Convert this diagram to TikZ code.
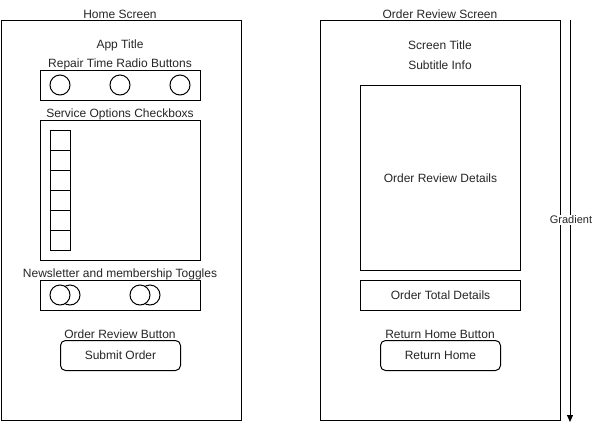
\documentclass[tikz,border=0pt]{standalone}
\usepackage{fontspec}
\setmainfont{Liberation Sans}
\usetikzlibrary{arrows.meta}
\begin{document}
\begin{tikzpicture}[x=1pt,y=-1pt,
  lbl/.style={font=\fontsize{12}{14}\selectfont, text=black!85, inner sep=0pt},
  panel/.style={draw, line width=1pt, inner sep=0pt, anchor=north west, fill=white},
  btn/.style={panel, rounded corners=5pt},
  cbox/.style={draw, line width=1pt, inner sep=0pt, minimum size=20pt, anchor=north west},
  radio/.style={draw, line width=1pt, circle, inner sep=0pt, minimum size=20pt},
  tog/.style={draw, line width=1pt, circle, inner sep=0pt, minimum size=20pt, fill=white},
  flow/.style={draw, line width=1pt, -{Triangle[length=7pt,width=6pt]}}]
\useasboundingbox (0,0) rectangle (592,429);

% ---------- Home screen ----------
\node[panel, minimum width=240, minimum height=400] (home) at (0.5,20) {};
\node[lbl] (homeT) at (120,14.5) {Home Screen};
\node[lbl] (appT) at (120,45) {App Title};

\node[lbl] (radioT) at (120,64) {Repair Time Radio Buttons};
\node[panel, minimum width=160, minimum height=30] (radioBox) at (40,70) {};
\node[radio] (r1) at (60,85) {};
\node[radio] (r2) at (120,85) {};
\node[radio] (r3) at (180,85) {};

\node[lbl] (chkT) at (120,114.5) {Service Options Checkboxs};
\node[panel, minimum width=160, minimum height=140] (chkBox) at (40,120) {};
\node[cbox] (c1) at (50,130) {};
\node[cbox] (c2) at (50,150) {};
\node[cbox] (c3) at (50,170) {};
\node[cbox] (c4) at (50,190) {};
\node[cbox] (c5) at (50,210) {};
\node[cbox] (c6) at (50,230) {};

\node[lbl] (togT) at (120,274) {Newsletter and membership Toggles};
\node[panel, minimum width=160, minimum height=30] (togBox) at (40,280) {};
\node[tog] (t1b) at (70,295) {};
\node[tog] (t1a) at (60,295) {};
\node[tog] (t2b) at (150,295) {};
\node[tog] (t2a) at (140,295) {};

\node[lbl] (subT) at (120,334.5) {Order Review Button};
\node[btn, minimum width=120, minimum height=30] (submit) at (60,340) {};
\node[lbl] (submitL) at (submit.center) {Submit Order};

% ---------- Order review screen ----------
\node[panel, minimum width=240, minimum height=400] (review) at (320,20) {};
\node[lbl] (revT) at (440,14.5) {Order Review Screen};
\node[lbl] (scrT) at (440,45) {Screen Title};
\node[lbl] (subInfo) at (440,65) {Subtitle Info};

\node[panel, minimum width=160, minimum height=185] (details) at (360,85) {};
\node[lbl] (detailsL) at (details.center) {Order Review Details};

\node[panel, minimum width=160, minimum height=30] (total) at (360,280) {};
\node[lbl] (totalL) at (total.center) {Order Total Details};

\node[lbl] (retT) at (440,334.5) {Return Home Button};
\node[btn, minimum width=120, minimum height=30] (ret) at (380,340) {};
\node[lbl] (retL) at (ret.center) {Return Home};

% ---------- Gradient arrow ----------
\coordinate (gTop) at (570,20);
\coordinate (gBot) at (570,422);
\draw[flow] (gTop) -- (gBot);
\node[lbl, font=\fontsize{11}{13}\selectfont, fill=white, inner sep=1pt] (grad) at (571,220) {Gradient};
\end{tikzpicture}
\end{document}
